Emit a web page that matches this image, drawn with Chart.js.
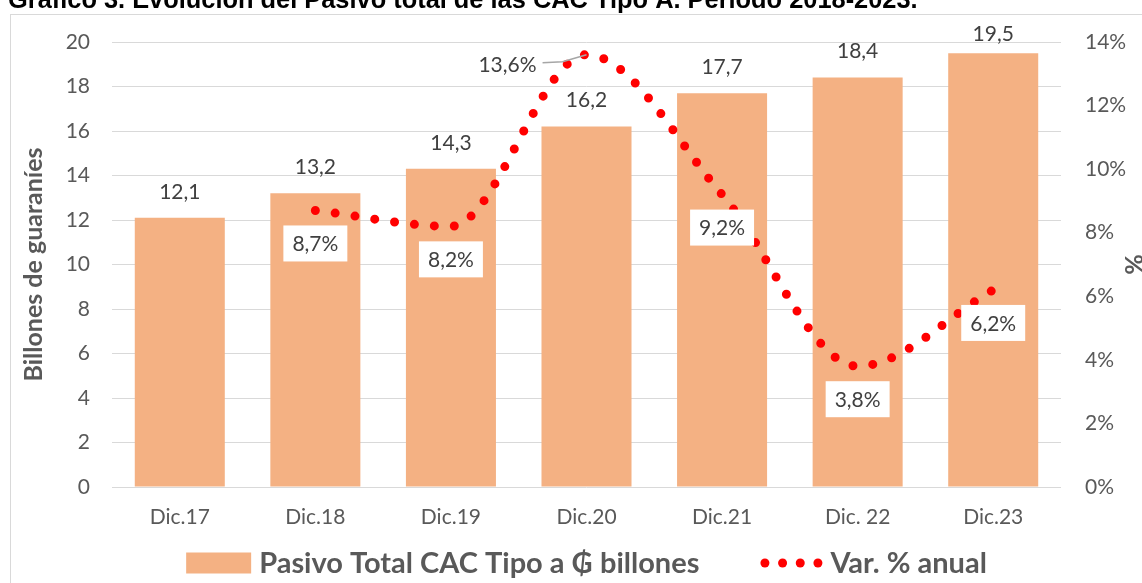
<!DOCTYPE html>
<html>
<head>
<meta charset="utf-8">
<script src="https://cdn.jsdelivr.net/npm/chart.js@4.4.1/dist/chart.umd.min.js"></script>
<style>
html,body{margin:0;padding:0;background:#fff;overflow:hidden;}
#wrap{position:relative;width:1142px;height:583px;}
</style>
</head>
<body>
<div id="wrap"><canvas id="c" width="1142" height="583"></canvas></div>
<script>
// ---- data ----
const titleText = 'Gráfico 3. Evolución del Pasivo total de las CAC Tipo A. Período 2018-2023.';
const categories = ['Dic.17', 'Dic.18', 'Dic.19', 'Dic.20', 'Dic.21', 'Dic. 22', 'Dic.23'];
const pasivoTotal = [12.1, 13.2, 14.3, 16.2, 17.7, 18.4, 19.5];
const variacionAnual = [null, 8.7, 8.2, 13.6, 9.2, 3.8, 6.2];
const barLabel = 'Pasivo Total CAC Tipo a \u20B2 billones';
const lineLabel = 'Var. % anual';
const leftAxisTitle = 'Billones de guaraníes';
const rightAxisTitle = '%';

// ---- styling ----
const FONT = 'Lato, "Liberation Sans", "DejaVu Sans", sans-serif';
const BAR_COLOR = '#F4B183';
const LINE_COLOR = '#FF0000';
const TEXT_GREY = '#595959';
const LABEL_GREY = '#404040';
const GRID = '#d9d9d9';

const fmt = (v, d = 1) => v.toFixed(d).replace('.', ',');

// per-label placement of the line value labels (style only)
const lineLabelPlacement = { 3: { dx: -79, dy: 10, leader: true } };
const defaultLinePlacement = { dx: 0, dy: 33, leader: false };

const decor = {
  id: 'decor',
  beforeDraw(chart) {
    const ctx = chart.ctx;
    ctx.save();
    ctx.fillStyle = '#fff';
    ctx.fillRect(0, 0, chart.width, chart.height);
    ctx.strokeStyle = GRID;
    ctx.lineWidth = 1;
    ctx.strokeRect(10.5, 14.5, chart.width + 40, chart.height + 40);
    ctx.fillStyle = '#000';
    ctx.font = 'bold 25.4px "Liberation Sans", Arial, sans-serif';
    ctx.textAlign = 'left';
    ctx.textBaseline = 'alphabetic';
    ctx.fillText(titleText, 8, 8);
    ctx.restore();
  },
  afterDatasetsDraw(chart) {
    const ctx = chart.ctx;
    const area = chart.chartArea;
    ctx.save();
    ctx.font = '21px ' + FONT;
    ctx.fillStyle = LABEL_GREY;
    ctx.textAlign = 'center';
    ctx.textBaseline = 'middle';
    // bar value labels
    const barMeta = chart.getDatasetMeta(0);
    barMeta.data.forEach((el, i) => {
      const y = Math.max(el.y - 26, area.top - 8);
      ctx.fillText(fmt(pasivoTotal[i]), el.x, y);
    });
    // line value labels
    const lineMeta = chart.getDatasetMeta(1);
    lineMeta.data.forEach((el, i) => {
      const v = variacionAnual[i];
      if (v === null || v === undefined) return;
      const p = lineLabelPlacement[i] || defaultLinePlacement;
      const txt = fmt(v) + '%';
      const w = ctx.measureText(txt).width + 18;
      const h = 36;
      const cx = el.x + p.dx, cy = el.y + p.dy;
      ctx.fillStyle = '#fff';
      ctx.fillRect(cx - w / 2, cy - h / 2, w, h);
      ctx.fillStyle = LABEL_GREY;
      ctx.fillText(txt, cx, cy + 1);
      if (p.leader) {
        ctx.strokeStyle = '#a6a6a6';
        ctx.lineWidth = 1.5;
        ctx.beginPath();
        ctx.moveTo(cx + w / 2 - 3, cy - 2);
        ctx.lineTo(cx + w / 2 + 17, cy - 3);
        ctx.lineTo(el.x, el.y);
        ctx.stroke();
      }
    });
    ctx.restore();
  },
  afterDraw(chart) {
    // legend
    const ctx = chart.ctx;
    const area = chart.chartArea;
    ctx.save();
    ctx.font = 'bold 29px ' + FONT;
    ctx.textBaseline = 'middle';
    ctx.textAlign = 'left';
    const boxW = 65, boxH = 21, gapTxt = 8, gapItems = 61, dotsW = 62;
    const w1 = ctx.measureText(barLabel).width;
    const w2 = ctx.measureText(lineLabel).width;
    const total = boxW + gapTxt + w1 + gapItems + dotsW + gapTxt + w2;
    let x = (area.left + area.right) / 2 - total / 2;
    const cy = chart.height - 20;
    ctx.fillStyle = BAR_COLOR;
    ctx.fillRect(x, cy - boxH / 2, boxW, boxH);
    x += boxW + gapTxt;
    ctx.fillStyle = TEXT_GREY;
    ctx.fillText(barLabel, x, cy + 1);
    x += w1 + gapItems;
    ctx.fillStyle = LINE_COLOR;
    for (let k = 0; k < 4; k++) {
      ctx.beginPath();
      ctx.arc(x + 4.5 + k * (dotsW - 9) / 3, cy, 4.5, 0, Math.PI * 2);
      ctx.fill();
    }
    x += dotsW + gapTxt;
    ctx.fillStyle = TEXT_GREY;
    ctx.fillText(lineLabel, x, cy + 1);
    ctx.restore();
  }
};

new Chart(document.getElementById('c'), {
  type: 'bar',
  data: {
    labels: categories,
    datasets: [
      {
        type: 'bar',
        label: barLabel,
        data: pasivoTotal,
        backgroundColor: BAR_COLOR,
        borderWidth: 0,
        categoryPercentage: 1,
        barPercentage: 0.664,
        yAxisID: 'y',
        order: 2
      },
      {
        type: 'line',
        label: lineLabel,
        data: variacionAnual,
        yAxisID: 'y1',
        borderColor: LINE_COLOR,
        borderWidth: 9,
        borderDash: [0, 20],
        borderCapStyle: 'round',
        pointRadius: 0,
        cubicInterpolationMode: 'monotone',
        fill: false,
        order: 1
      }
    ]
  },
  options: {
    responsive: false,
    devicePixelRatio: 1,
    animation: false,
    layout: { padding: { top: 42, left: 0, right: 0, bottom: 0 } },
    plugins: {
      legend: { display: false },
      tooltip: { enabled: false },
      title: { display: false }
    },
    scales: {
      x: {
        grid: { display: false, drawTicks: false },
        border: { display: false },
        ticks: { color: TEXT_GREY, font: { family: FONT, size: 21 }, padding: 18, maxRotation: 0 },
        afterFit(s) { s.height = 96; }
      },
      y: {
        position: 'left',
        min: 0, max: 20,
        ticks: { stepSize: 2, color: TEXT_GREY, font: { family: FONT, size: 21 }, padding: 22 },
        grid: { color: GRID, lineWidth: 1, drawTicks: false },
        border: { display: false },
        title: { display: true, text: leftAxisTitle, color: TEXT_GREY, font: { family: FONT, size: 25, weight: 'bold' }, padding: { top: 19, bottom: 0 } },
        afterFit(s) { s.width = 112; }
      },
      y1: {
        position: 'right',
        min: 0, max: 14,
        ticks: { stepSize: 2, color: TEXT_GREY, font: { family: FONT, size: 21 }, padding: 24, callback: v => v + '%' },
        grid: { display: false, drawTicks: false },
        border: { display: false },
        title: { display: true, text: rightAxisTitle, color: TEXT_GREY, font: { family: FONT, size: 25, weight: 'bold', lineHeight: 1 }, padding: { top: -4, bottom: 0 } },
        afterFit(s) { s.width = 81; }
      }
    }
  },
  plugins: [decor]
});
</script>
</body>
</html>
